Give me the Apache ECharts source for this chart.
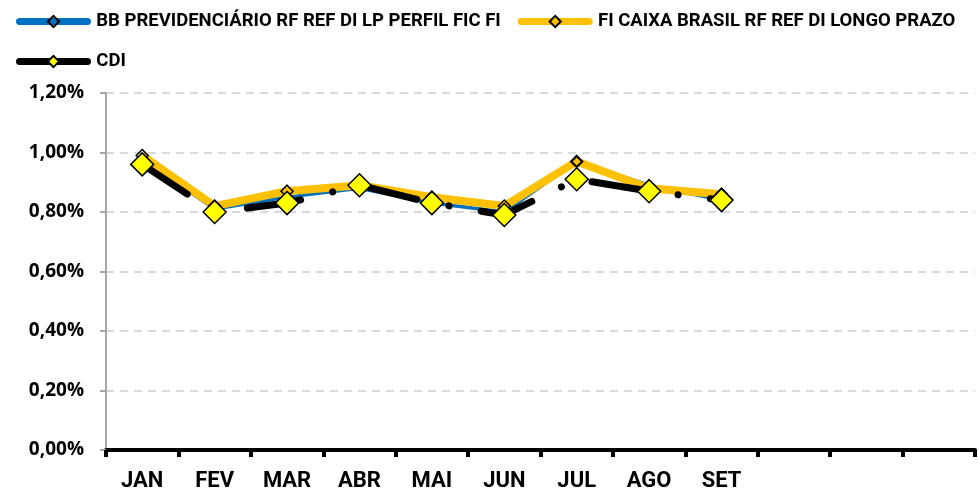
<!DOCTYPE html>
<html>
<head>
<meta charset="utf-8">
<script src="https://cdn.jsdelivr.net/npm/echarts@6/dist/echarts.min.js"></script>
<style>
    html, body { margin: 0; padding: 0; background: #fff; }
    #chart { width: 979px; height: 493px; }
</style>
</head>
<body>
<div id="chart"></div>
<script>
const months = ['JAN', 'FEV', 'MAR', 'ABR', 'MAI', 'JUN', 'JUL', 'AGO', 'SET', 'OUT', 'NOV', 'DEZ']
const bbPrev = [0.98, 0.81, 0.85, 0.88, 0.83, 0.80, 0.97, 0.89, 0.84]
const caixaLp = [0.99, 0.82, 0.87, 0.89, 0.85, 0.82, 0.97, 0.88, 0.86]
const cdi = [0.96, 0.80, 0.83, 0.89, 0.83, 0.79, 0.91, 0.87, 0.84]
const seriesNames = ['BB PREVIDENCIÁRIO RF REF DI LP PERFIL FIC FI', 'FI CAIXA BRASIL RF REF DI LONGO PRAZO', 'CDI']

const legendText = { fontFamily: 'Roboto', fontWeight: 'bold', fontSize: 18.5, color: '#000' }
const xLabelText = { fontFamily: 'Roboto', fontWeight: 'bold', fontSize: 22, color: '#000' }
const yLabelText = { fontFamily: 'Open Sans', fontWeight: 'bold', fontSize: 19, color: '#000' }

const legendBase = {
    padding: 0,
    itemWidth: 68, itemHeight: 14, itemGap: 17,
    textStyle: legendText,
    // thin space keeps the label clear of the rounded line end
    formatter: name => '\u2009' + name,
    lineStyle: { width: 7, cap: 'round', type: 'solid' }
}

const myChart = echarts.init(document.getElementById('chart'))
myChart.setOption({
    animation: false,
    grid: { left: 106, right: 4, top: 93, bottom: 43, containLabel: false },
    legend: [
        { ...legendBase, data: [seriesNames[0], seriesNames[1]], left: 16, top: 12 },
        { ...legendBase, data: [seriesNames[2]], left: 16, top: 52 }
    ],
    xAxis: {
        type: 'category',
        data: months,
        boundaryGap: true,
        axisLine: { lineStyle: { color: '#000', width: 4 } },
        axisTick: { show: true, length: 7, lineStyle: { color: '#000', width: 4 } },
        axisLabel: {
            ...xLabelText,
            margin: 20,
            formatter: (val, idx) => idx < cdi.length ? val : ''
        },
        splitLine: { show: false }
    },
    yAxis: {
        type: 'value',
        min: 0, max: 1.2, interval: 0.2,
        axisLine: { show: true, lineStyle: { color: '#A6A6A6', width: 2 } },
        axisTick: { show: true, length: 6, lineStyle: { color: '#A6A6A6', width: 2 } },
        axisLabel: {
            ...yLabelText,
            margin: 22,
            formatter: v => v.toFixed(2).replace('.', ',') + '%'
        },
        splitLine: { lineStyle: { color: '#D9D9D9', type: [8, 6], width: 2 } }
    },
    series: [
        {
            name: seriesNames[0],
            type: 'line',
            data: bbPrev,
            symbol: 'diamond', symbolSize: 10,
            lineStyle: { color: '#0070C0', width: 3.5 },
            itemStyle: { color: 'rgba(255,255,255,0)', borderColor: '#000', borderWidth: 1.5 }
        },
        {
            name: seriesNames[1],
            type: 'line',
            data: caixaLp,
            symbol: 'diamond', symbolSize: 12,
            lineStyle: { color: '#FFC000', width: 8 },
            itemStyle: { color: 'rgba(255,255,255,0)', borderColor: '#000', borderWidth: 1.5 }
        },
        {
            name: seriesNames[2],
            type: 'line',
            data: cdi,
            symbol: 'diamond', symbolSize: 23,
            lineStyle: { color: '#000', width: 7, cap: 'round', type: [54, 33, 0.01, 32.6] },
            itemStyle: { color: '#FFFF00', borderColor: '#000', borderWidth: 1.5 }
        }
    ]
})
window.addEventListener('resize', () => { myChart && myChart.resize() })
</script>
</body>
</html>
